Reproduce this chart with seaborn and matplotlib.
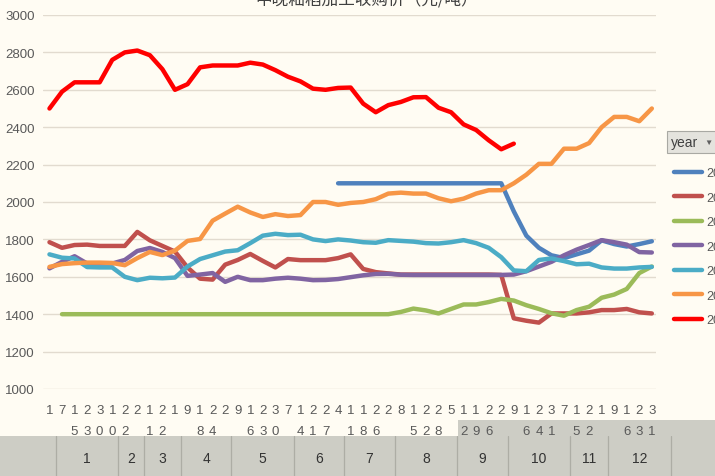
import numpy as np
import pandas as pd
import matplotlib
matplotlib.use("Agg")
import matplotlib.pyplot as plt
from matplotlib.patches import Rectangle
import seaborn as sns

na = np.nan

# month / day of each category on the x axis
months = [1, 1, 1, 1, 1, 2, 2, 3, 3, 3, 4, 4, 4, 4, 5, 5, 5, 5, 5, 6, 6, 6, 6,
          7, 7, 7, 7, 8, 8, 8, 8, 8, 9, 9, 9, 9, 10, 10, 10, 10, 10, 11, 11, 11,
          12, 12, 12, 12, 12]
days = [1, 7, 15, 23, 30, 10, 22, 2, 11, 22, 1, 9, 18, 24, 2, 9, 16, 23, 30, 7, 14, 21, 27,
        4, 11, 18, 26, 2, 8, 15, 22, 28, 5, 12, 19, 26, 2, 9, 16, 24, 31, 7, 15, 22,
        1, 9, 16, 23, 31]

years = ["2015", "2016", "2017", "2018", "2019", "2020", "2021"]

y2015 = [na, na, na, na, na, na, na, na, na, na, na, na, na, na, na, na, na, na, na, na, na, na, na,
         2100, 2100, 2100, 2100, 2100, 2100, 2100, 2100, 2100, 2100, 2100, 2100, 2100, 2100,
         1950, 1820, 1755, 1715, 1700, 1720, 1740, 1795, 1775, 1762, 1775, 1790]
y2016 = [1785, 1755, 1770, 1772, 1765, 1765, 1765, 1840, 1795, 1765,
         1735, 1650, 1590, 1585, 1665, 1690, 1722, 1685, 1650, 1695,
         1689, 1689, 1689, 1700, 1720, 1642, 1625, 1618, 1612, 1612,
         1612, 1612, 1612, 1612, 1612, 1612, 1610, 1378, 1365, 1355,
         1404, 1404, 1404, 1410, 1422, 1422, 1428, 1410, 1404]
y2017 = [na, 1400, 1400, 1400, 1400, 1400, 1400, 1400, 1400, 1400,
         1400, 1400, 1400, 1400, 1400, 1400, 1400, 1400, 1400, 1400,
         1400, 1400, 1400, 1400, 1400, 1400, 1400, 1400, 1412, 1430,
         1420, 1404, 1428, 1452, 1452, 1465, 1482, 1473, 1448, 1428,
         1405, 1392, 1422, 1440, 1488, 1505, 1535, 1620, 1655]
y2018 = [1645, 1680, 1710, 1671, 1671, 1671, 1690, 1738, 1754, 1733,
         1700, 1605, 1612, 1620, 1573, 1600, 1582, 1582, 1590, 1595,
         1590, 1582, 1583, 1588, 1598, 1608, 1615, 1616, 1611, 1610,
         1610, 1610, 1610, 1610, 1610, 1610, 1610, 1612, 1630, 1655,
         1680, 1715, 1745, 1770, 1796, 1785, 1772, 1732, 1730]
y2019 = [1720, 1702, 1698, 1652, 1650, 1650, 1600, 1582, 1595, 1592,
         1596, 1655, 1695, 1715, 1735, 1742, 1780, 1820, 1830, 1823,
         1825, 1800, 1791, 1800, 1794, 1785, 1782, 1796, 1792, 1788,
         1780, 1778, 1785, 1796, 1780, 1755, 1705, 1634, 1630, 1690,
         1698, 1684, 1667, 1670, 1650, 1644, 1644, 1650, 1653]
y2020 = [1653, 1668, 1673, 1676, 1676, 1674, 1662, 1700, 1733, 1716,
         1740, 1792, 1802, 1900, 1938, 1975, 1944, 1920, 1935, 1925,
         1930, 2000, 2000, 1985, 1995, 2000, 2015, 2045, 2050, 2045,
         2045, 2020, 2004, 2018, 2045, 2063, 2063, 2100, 2146, 2204,
         2204, 2285, 2285, 2315, 2400, 2455, 2455, 2432, 2500]
y2021 = [2500, 2590, 2640, 2640, 2640, 2760, 2800, 2810, 2785, 2710,
         2600, 2630, 2720, 2730, 2730, 2730, 2745, 2735, 2705, 2670,
         2645, 2606, 2600, 2610, 2612, 2526, 2480, 2518, 2535, 2560,
         2561, 2504, 2480, 2415, 2385, 2330, 2282, 2312, na, na,
         na, na, na, na, na, na, na, na, na]

series = [y2015, y2016, y2017, y2018, y2019, y2020, y2021]
colors = ["#4F81BD", "#C0504D", "#9BBB59", "#8064A2", "#4BACC6", "#F79646", "#FF0000"]
widths = [2.3, 2.3, 2.3, 2.3, 2.3, 2.3, 3.0]

title = "中晚籼稻加工收购价（元/吨）"

bg = "#FFFCF3"
sns.set_style("white")
plt.rcParams["font.family"] = ["Liberation Sans", "Noto Sans CJK SC", "DejaVu Sans"]

fig = plt.figure(figsize=(7.15, 4.77), dpi=100, facecolor=bg)
W, H = 715, 477
ax = fig.add_axes([43.2 / W, 1 - 390 / H, (655.6 - 43.2) / W, (390 - 16) / H])
ax.set_facecolor(bg)

idx = np.arange(len(days))
for yr, vals, c, lw in zip(years, series, colors, widths):
    df = pd.DataFrame({"cat": idx, "price": vals}).dropna()
    sns.lineplot(data=df, x="cat", y="price", color=c, linewidth=lw, label=yr, ax=ax)

ax.set_xlim(-0.3, len(days) - 0.7)
ax.set_ylim(1000, 3000)
ax.set_yticks(range(1000, 3001, 200))
ax.grid(axis="y", color="#E2DBCF", linewidth=1)
ax.set_axisbelow(True)
for s in ax.spines.values():
    s.set_visible(False)
ax.set_xlabel("")
ax.set_ylabel("")
ax.tick_params(axis="y", length=0, pad=6, labelsize=9.5, labelcolor="#595959")

# day labels, digits stacked
ax.set_xticks(idx)
ax.set_xticklabels(["\n".join(str(d)) for d in days], linespacing=1.95, va="top")
ax.tick_params(axis="x", which="major", length=0, pad=11, labelsize=9.5, labelcolor="#595959")

# month separators in the label row
bounds = [-0.5] + [i + 0.5 for i in range(len(months) - 1) if months[i] != months[i + 1]]
ax.set_xticks(bounds, minor=True)
ax.tick_params(axis="x", which="minor", length=34, width=0.8, color="#DAD3C8")

# grey month band at the bottom
fig.add_artist(Rectangle((458 / W, 40 / H), 1 - 458 / W, 16 / H, transform=fig.transFigure,
                         facecolor="#CDCDC5", edgecolor="none", zorder=-1))
band = fig.add_axes([0, 0, 1, 40 / H])
band.set_facecolor("#CDCDC5")
x0, x1 = ax.get_xlim()
pos = ax.get_position()
scale = (x1 - x0) / pos.width
band.set_xlim(x0 - pos.x0 * scale, x0 + (1 - pos.x0) * scale)
band.set_ylim(0, 1)
band.axis("off")
band.add_patch(Rectangle((0, 0), 1, 1, transform=band.transAxes, facecolor="#CDCDC5",
                         edgecolor="none", zorder=0))
mlist = sorted(set(months))
edges = [-0.5 + 1]
for m in mlist:
    edges.append(max(i for i in idx if months[i] == m) + 0.5 + 1)
for e in edges:
    band.axvline(e, color="#ADADA5", linewidth=0.9)
for m, a, b in zip(mlist, edges[:-1], edges[1:]):
    band.text((a + b) / 2, 0.45, str(m), ha="center", va="center", fontsize=10, color="#333333")

# legend, cut off by the right edge like the original
handles, labels = ax.get_legend_handles_labels()
for h in handles:
    h.set_linewidth(3.2)
ax.legend(handles, labels, loc="upper left", bbox_to_anchor=(668 / W, 1 - 162 / H),
          bbox_transform=fig.transFigure, frameon=False, fontsize=9, borderpad=0,
          handlelength=2.25, handletextpad=0.3, labelspacing=1.0, labelcolor="#595959")
fig.add_artist(Rectangle((667 / W, 1 - 154 / H), 60 / W, 22 / H, transform=fig.transFigure,
                         facecolor="#E4E3DD", edgecolor="#A9A9A3", linewidth=0.8))
fig.text(671 / W, 1 - 143 / H, "year", fontsize=10, color="#404040", va="center")
fig.text(704 / W, 1 - 143 / H, "▼", fontsize=6, color="#606060", va="center")

fig.text(367 / W, 1.0, title, ha="center", va="center", fontsize=12, color="#404040",
         family=["Noto Sans CJK SC", "DejaVu Sans"])

fig.savefig("out.png", dpi=100, facecolor=bg)
